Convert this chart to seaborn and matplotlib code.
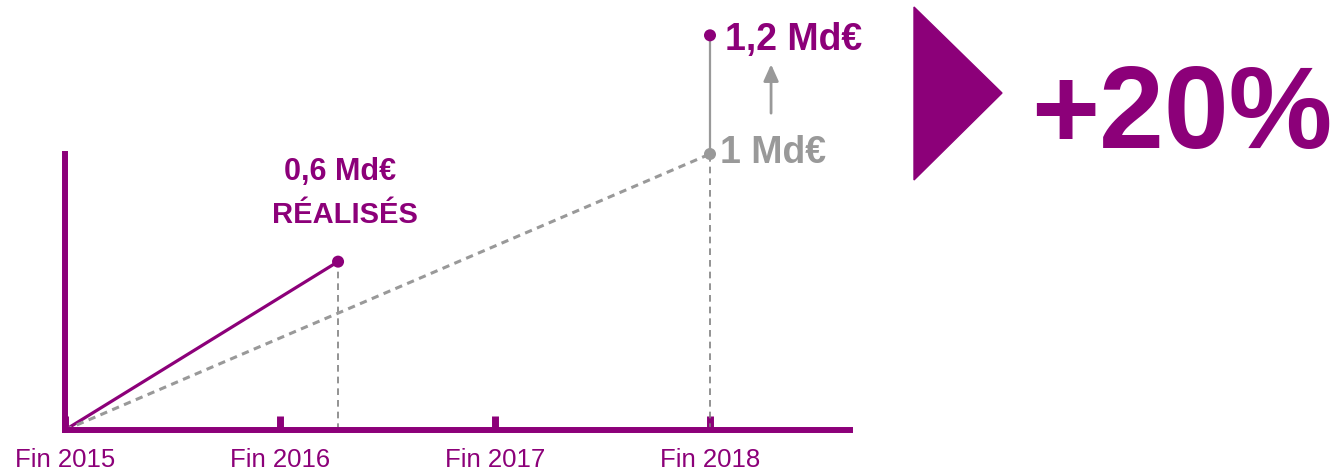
import numpy as np
import pandas as pd
import matplotlib
matplotlib.use("Agg")
import matplotlib.pyplot as plt
from matplotlib.patches import Polygon
import seaborn as sns

# --- data (schematic chart) ---
years = [2015, 2016, 2017, 2018]
year_labels = ["Fin 2015", "Fin 2016", "Fin 2017", "Fin 2018"]

start = (2015, 0.0)
realised_x, realised_y = 2016.27, 0.61      # 0,6 Md€ réalisés
target_x, target_y = 2018, 1.0              # objectif initial 1 Md€
revised_y = 1.43                            # nouvel objectif 1,2 Md€ (hors échelle)

realised_value = 0.6
target_value = 1.0
revised_value = 1.2

PURPLE = "#8C0079"
GREY = "#999999"
DGREY = "#808080"

sns.set_style("white")
plt.rcParams["font.family"] = ["Liberation Sans", "DejaVu Sans"]

fig = plt.figure(figsize=(13.41, 4.73), dpi=100)
ax = fig.add_axes([0, 0, 1, 1])
ax.set_xlim(2015 - 65 / 215, 2015 + 1276 / 215)
ax.set_ylim(-43 / 276, 430 / 276)

# realised trajectory
real_df = pd.DataFrame({"x": [start[0], realised_x], "y": [start[1], realised_y]})
sns.lineplot(data=real_df, x="x", y="y", color=PURPLE, lw=2.3, ax=ax)

# planned trajectory (dotted grey)
plan_df = pd.DataFrame({"x": [start[0], target_x], "y": [start[1], target_y]})
sns.lineplot(data=plan_df, x="x", y="y", color=GREY, lw=2.2, ax=ax,
             dashes=False, linestyle=(0, (2.4, 1.8)))

# drop lines
ax.plot([realised_x, realised_x], [0, realised_y], color=DGREY, lw=1.2,
        linestyle=(0, (4, 3)), zorder=1)
ax.plot([target_x, target_x], [0, target_y], color=DGREY, lw=1.2,
        linestyle=(0, (4, 3)), zorder=1)

# revision: 1 Md€ -> 1,2 Md€
ax.plot([target_x, target_x], [target_y, revised_y], color=GREY, lw=1.6, zorder=2)

pts = pd.DataFrame({"x": [realised_x, target_x, target_x],
                    "y": [realised_y, target_y, revised_y],
                    "kind": ["real", "plan", "new"]})
sns.scatterplot(data=pts, x="x", y="y", hue="kind",
                palette={"real": PURPLE, "plan": GREY, "new": PURPLE},
                s=75, edgecolor="none", legend=False, ax=ax, zorder=5)

def fmt(v):
    s = f"{v:g}".replace(".", ",")
    return f"{s} Md€"

ax.text(realised_x + 0.01, 0.906, fmt(realised_value), color=PURPLE,
        fontsize=22, fontweight="bold", ha="center", va="baseline")
ax.text(realised_x + 0.03, 0.75, "RÉALISÉS", color=PURPLE,
        fontsize=21, fontweight="bold", ha="center", va="baseline")
ax.text(target_x + 0.07, 1.377, fmt(revised_value), color=PURPLE,
        fontsize=27, fontweight="bold", ha="left", va="baseline")
ax.text(target_x + 0.047, 0.967, fmt(target_value), color=GREY,
        fontsize=27, fontweight="bold", ha="left", va="baseline")

# small up arrow
ax.annotate("", xy=(target_x + 0.284, 1.325), xytext=(target_x + 0.284, 1.148),
            arrowprops=dict(arrowstyle="-|>,head_length=1.0,head_width=0.45",
                            color=GREY, lw=2.0, shrinkA=0, shrinkB=0))

# axes
for s in ["top", "right"]:
    ax.spines[s].set_visible(False)
ax.spines["left"].set_position(("data", 2015))
ax.spines["left"].set_bounds(0, 1.0)
ax.spines["bottom"].set_position(("data", 0))
ax.spines["bottom"].set_bounds(2015, 2018.65)
for s in ["left", "bottom"]:
    ax.spines[s].set_color(PURPLE)
    ax.spines[s].set_linewidth(4.3)
ax.set_xticks(years)
ax.set_xticklabels(year_labels)
ax.set_yticks([])
ax.tick_params(axis="x", bottom=True, direction="in", length=10, width=5,
               color=PURPLE, labelcolor=PURPLE, labelsize=18.5, pad=13)
ax.set_xlabel("")
ax.set_ylabel("")

# right-hand callout: triangle + percentage
tri = Polygon([[914 / 1341, 1 - 7 / 473], [914 / 1341, 1 - 180 / 473],
               [1002 / 1341, 1 - 93 / 473]], closed=True,
              transform=fig.transFigure, color=PURPLE)
fig.patches.append(tri)
pct = round((revised_value / target_value - 1) * 100)
fig.text(1031 / 1341, 1 - 148 / 473, f"+{pct}%", color=PURPLE,
         fontsize=84, fontweight="bold", ha="left", va="baseline")

fig.savefig("out.png", dpi=100)
